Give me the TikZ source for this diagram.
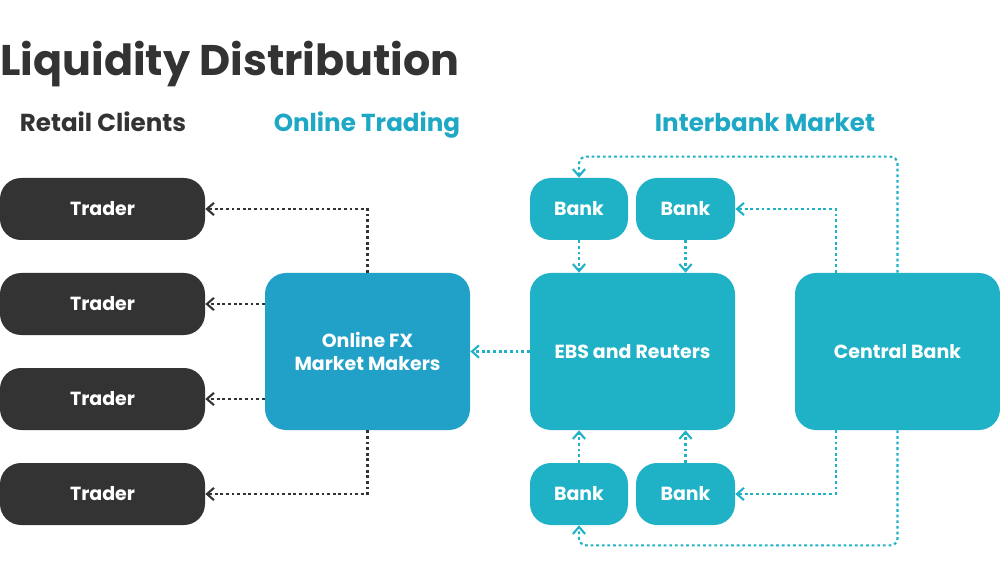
\documentclass[tikz,border=0pt]{standalone}
\usepackage{fontspec}
\setmainfont{Poppins}
\usetikzlibrary{arrows.meta}
\definecolor{darkbox}{HTML}{333333}
\definecolor{teal}{HTML}{1FB2C6}
\definecolor{fxblue}{HTML}{22A1C8}
\definecolor{headteal}{HTML}{1FA8C6}
\begin{document}
\begin{tikzpicture}[x=0.02cm,y=-0.02cm]
        \tikzset{box/.style = {rounded corners=12pt,text=white,font=\bfseries\fontsize{10.8}{13.5}\selectfont,align=center,inner sep=0pt}}
        \tikzset{edge/.style = {-{Straight Barb[length=4pt,width=7pt]},dash pattern=on 1.6pt off 1.6pt,line width=1.2pt}}
        \tikzset{head/.style = {font=\bfseries\fontsize{14}{17}\selectfont,anchor=base,inner sep=0pt}}
        \useasboundingbox (0,0) rectangle (1000,587);

        % headings
        \node[anchor=base west,text=darkbox,font=\bfseries\fontsize{24.4}{28}\selectfont,inner sep=0pt] (title) at (0,76) {Liquidity Distribution};
        \node[head,text=darkbox] (hretail) at (103,132) {Retail Clients};
        \node[head,text=headteal] (honline) at (367,132) {Online Trading};
        \node[head,text=headteal] (hinter) at (765,132) {Interbank Market};

        % traders
        \foreach \i/\y in {1/178,2/273,3/368,4/463}
            \node[box,fill=darkbox,minimum width=205*0.02cm,minimum height=62*0.02cm] (t\i) at (102.5,\y+31) {Trader};

        % big boxes
        \node[box,fill=fxblue,minimum width=205*0.02cm,minimum height=157*0.02cm] (fx) at (367.5,351.5) {Online FX\\Market Makers};
        \node[box,fill=teal,minimum width=205*0.02cm,minimum height=157*0.02cm] (ebs) at (632.5,351.5) {EBS and Reuters};
        \node[box,fill=teal,minimum width=205*0.02cm,minimum height=157*0.02cm] (cb) at (897.5,351.5) {Central Bank};

        % banks
        \node[box,fill=teal,minimum width=98*0.02cm,minimum height=62*0.02cm] (b1) at (579,209) {Bank};
        \node[box,fill=teal,minimum width=99*0.02cm,minimum height=62*0.02cm] (b2) at (685.5,209) {Bank};
        \node[box,fill=teal,minimum width=98*0.02cm,minimum height=62*0.02cm] (b3) at (579,494) {Bank};
        \node[box,fill=teal,minimum width=99*0.02cm,minimum height=62*0.02cm] (b4) at (685.5,494) {Bank};

        % edges to traders
        \draw[edge,darkbox] (fx.north) |- (t1.east);
        \draw[edge,darkbox] (fx.west |- t2) -- (t2.east);
        \draw[edge,darkbox] (fx.west |- t3) -- (t3.east);
        \draw[edge,darkbox] (fx.south) |- (t4.east);

        % interbank edges
        \draw[edge,teal] (ebs.west) -- (fx.east);
        \draw[edge,teal] (b1.south) -- (b1.south |- ebs.north);
        \draw[edge,teal] (b2.south) -- (b2.south |- ebs.north);
        \draw[edge,teal] (b3.north) -- (b3.north |- ebs.south);
        \draw[edge,teal] (b4.north) -- (b4.north |- ebs.south);
        \draw[edge,teal] (cb.north west) ++(41,0) |- (b2.east);
        \draw[edge,teal] (cb.south west) ++(41,0) |- (b4.east);
        \draw[edge,teal,rounded corners=4pt] (cb.north) -- ++(0,-116) -| (b1.north);
        \draw[edge,teal,rounded corners=4pt] (cb.south) -- ++(0,115) -| (b3.south);
\end{tikzpicture}
\end{document}
